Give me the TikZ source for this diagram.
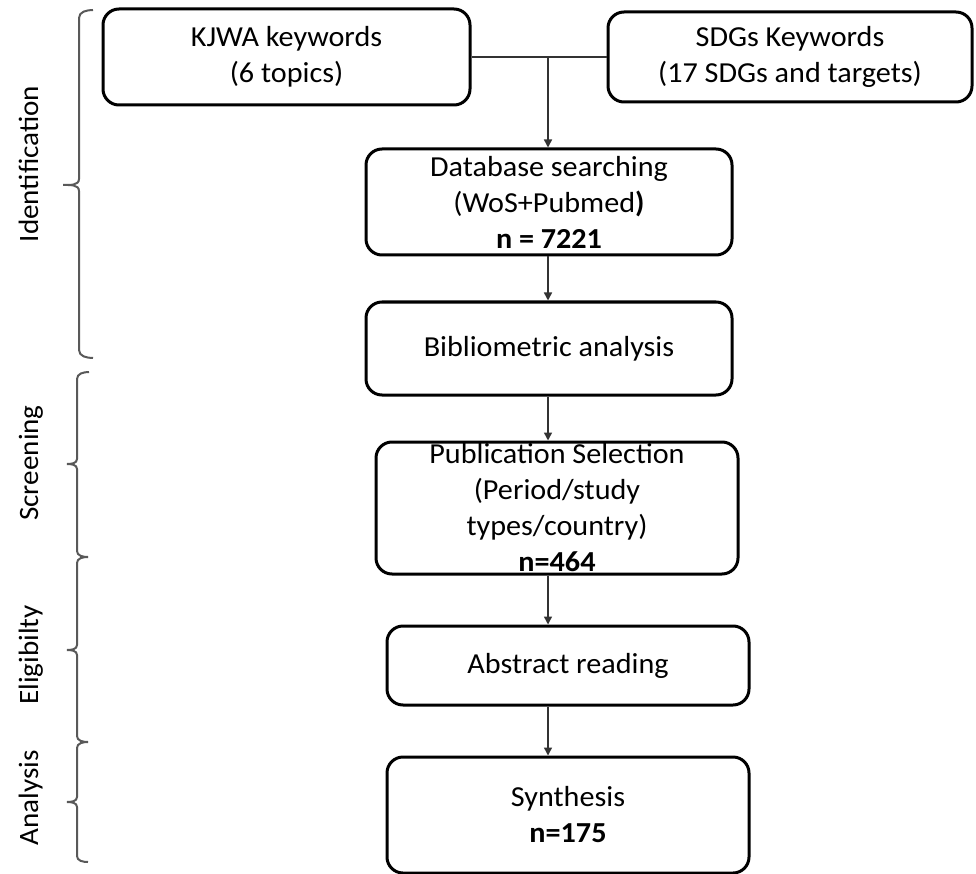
\documentclass[tikz,border=0pt]{standalone}
\usepackage{fontspec}
\setmainfont{Carlito}[FakeStretch=1.04]
\usetikzlibrary{arrows.meta}
\begin{document}
\begin{tikzpicture}[x=1pt,y=-1pt,
  box/.style={draw=black, line width=3pt, rounded corners=16pt, align=center, inner sep=0pt, font=\fontsize{29}{36}\selectfont},
  conn/.style={line width=1.5pt, draw=black!80},
  arr/.style={conn, -{Triangle[length=8pt,width=8pt]}},
  bracket/.style={line width=2pt, draw=black!65},
  stage/.style={rotate=90, anchor=base, font=\fontsize{28}{34}\selectfont}]
\useasboundingbox (0,0) rectangle (976,874);

% boxes
\node[box, minimum width=367pt, minimum height=96pt] (kjwa) at (286.5,57) {KJWA keywords\\(6 topics)};
\node[box, minimum width=364pt, minimum height=90pt] (sdg) at (790,57) {SDGs Keywords\\(17 SDGs and targets)};
\node[box, minimum width=366pt, minimum height=106pt] (db) at (549,202) {Database searching\\(WoS+Pubmed\textbf{)}\\\textbf{n = 7221}};
\node[box, minimum width=366pt, minimum height=93pt] (bib) at (549,348.5) {Bibliometric analysis};
\node[box, minimum width=362pt, minimum height=132pt] (pub) at (557,508) {Publication Selection\\(Period/study\\types/country)\\\textbf{n=464}};
\node[box, minimum width=362pt, minimum height=79pt] (abs) at (568,665.5) {Abstract reading};
\node[box, minimum width=362pt, minimum height=116pt] (syn) at (568,815) {Synthesis\\\textbf{n=175}};

% connectors
\coordinate (ax) at (548,0);
\coordinate (j) at (kjwa.east -| ax);
\draw[conn] (kjwa.east) -- (kjwa.east -| sdg.west);
\draw[arr] (j) -- (db.north -| ax);
\draw[arr] (db.south -| ax) -- (bib.north -| ax);
\draw[arr] (bib.south -| ax) -- (pub.north -| ax);
\draw[arr] (pub.south -| ax) -- (abs.north -| ax);
\draw[arr] (abs.south -| ax) -- (syn.north -| ax);

% brackets
\draw[bracket] (93,10) to[out=180,in=90] (79,18) -- (79,179) to[out=-90,in=0] (63,185) to[out=0,in=90] (79,191) -- (79,350) to[out=-90,in=180] (93,358);
\draw[bracket] (89,372) to[out=180,in=90] (77,379) -- (77,459) to[out=-90,in=0] (67,464) to[out=0,in=90] (77,469) -- (77,551) to[out=-90,in=180] (88,557);
\draw[bracket] (88,557) to[out=180,in=90] (77,563) -- (77,645) to[out=-90,in=0] (67,650) to[out=0,in=90] (77,655) -- (77,736) to[out=-90,in=180] (88,742);
\draw[bracket] (88,742) to[out=180,in=90] (77,748) -- (77,797) to[out=-90,in=0] (67,802) to[out=0,in=90] (77,807) -- (77,856) to[out=-90,in=180] (88,862);

% stage labels
\node[stage] (lid) at (38,164) {Identification};
\node[stage] (lsc) at (38,463) {Screening};
\node[stage] (lel) at (38,655) {Eligibilty};
\node[stage] (lan) at (38,798) {Analysis};
\end{tikzpicture}
\end{document}
